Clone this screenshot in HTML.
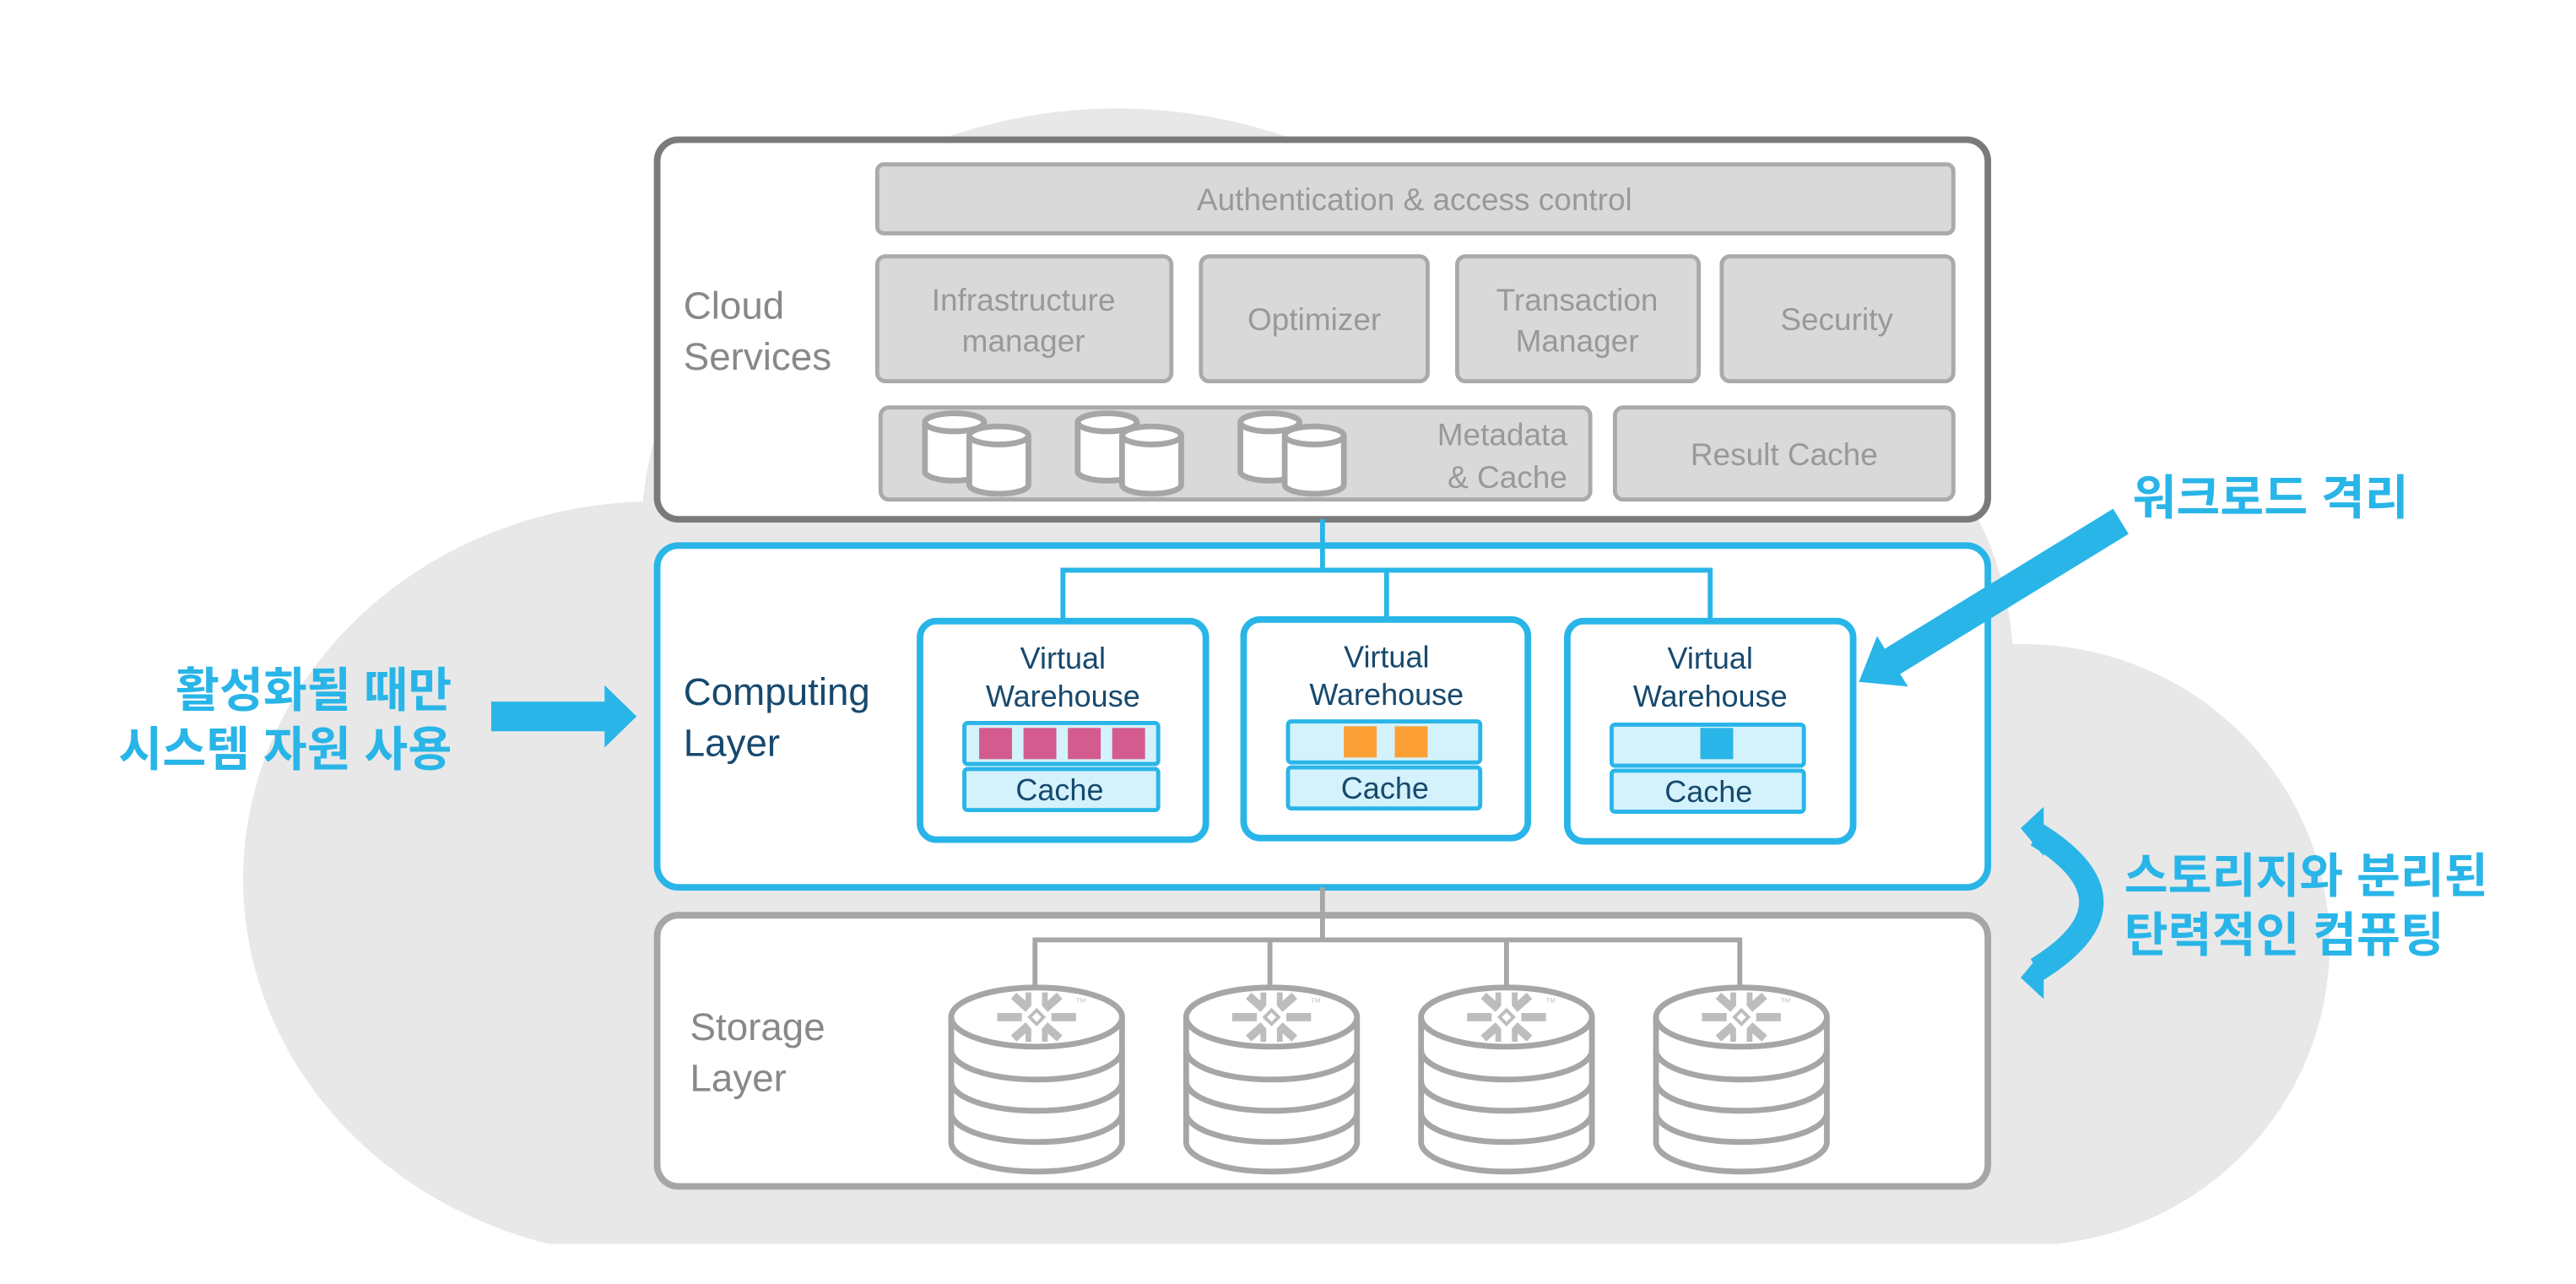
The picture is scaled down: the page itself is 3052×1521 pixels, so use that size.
<!DOCTYPE html>
<html><head><meta charset="utf-8"><style>
html,body{margin:0;padding:0;background:#fff;}
svg{display:block;}
text{font-family:"Liberation Sans","Noto Sans CJK KR",sans-serif;}
.k{font-family:"Liberation Sans","Noto Sans CJK KR",sans-serif;font-weight:bold;fill:#29b5e8;font-size:29px;}
.g{fill:#999;font-size:19px;}
.vw{fill:#17496e;font-size:18.5px;text-anchor:middle;}
</style></head><body>
<svg width="3052" height="1521" viewBox="0 0 1568 781.4" xmlns="http://www.w3.org/2000/svg">
<defs>
<clipPath id="cc"><rect x="0" y="0" width="1568" height="757"/></clipPath>
<g id="db">
  <path d="M-52 0 V76 A52 18 0 0 0 52 76 V0" fill="#fff" stroke="#a6a6a6" stroke-width="3.5"/>
  <path d="M-52 20 A52 18 0 0 0 52 20 M-52 39 A52 18 0 0 0 52 39 M-52 58 A52 18 0 0 0 52 58" fill="none" stroke="#a6a6a6" stroke-width="3.5"/>
  <ellipse cx="0" cy="0" rx="52" ry="18" fill="#fff" stroke="#a6a6a6" stroke-width="3.5"/>
  <g stroke="#bdbdbd" stroke-width="5" stroke-linecap="butt" fill="none">
    <path d="M-14 -13 L-5 -5 M14 -13 L5 -5 M-14 13 L-5 5 M14 13 L5 5 M-24 0 L-9 0 M24 0 L9 0"/>
    <path d="M-5 -15 V-7 M5 -15 V-7 M-5 15 V7 M5 15 V7" stroke-width="3.5"/>
  </g>
  <rect x="-3" y="-3" width="6" height="6" transform="rotate(45)" fill="none" stroke="#bdbdbd" stroke-width="2"/>
  <text x="24" y="-9" font-size="4" fill="#bbb">TM</text>
</g>
<g id="cyl">
  <path d="M-18 -12 V18 A18 5.5 0 0 0 18 18 V-12" fill="#fff" stroke="#a6a6a6" stroke-width="3.5"/>
  <ellipse cx="0" cy="-12" rx="18" ry="5.5" fill="#fff" stroke="#a6a6a6" stroke-width="3.5"/>
</g>
</defs>

<!-- cloud -->
<g fill="#e8e8e8" clip-path="url(#cc)">
  <ellipse cx="680" cy="330" rx="290" ry="264"/>
  <ellipse cx="400" cy="535" rx="252" ry="230"/>
  <ellipse cx="1232" cy="575" rx="186" ry="183"/>
  <path d="M400 330 L880 140 Q1210 200 1225 392 L1232 757 L400 757 Z"/>
</g>

<!-- Cloud Services -->
<rect x="400" y="85" width="810" height="231" rx="13" fill="#fff" stroke="#7a7a7a" stroke-width="4"/>
<g fill="#d9d9d9" stroke="#aaa" stroke-width="2.5">
  <rect x="534" y="100" width="655" height="42" rx="4"/>
  <rect x="534" y="156" width="179" height="76" rx="5"/>
  <rect x="731" y="156" width="138" height="76" rx="5"/>
  <rect x="887" y="156" width="147" height="76" rx="5"/>
  <rect x="1048" y="156" width="141" height="76" rx="5"/>
  <rect x="536" y="248" width="432" height="56" rx="5"/>
  <rect x="983" y="248" width="206" height="56" rx="5"/>
</g>
<g class="g" text-anchor="middle">
  <text x="861" y="128">Authentication &amp; access control</text>
  <text x="623" y="189">Infrastructure</text>
  <text x="623" y="214">manager</text>
  <text x="800" y="201">Optimizer</text>
  <text x="960" y="189">Transaction</text>
  <text x="960" y="214">Manager</text>
  <text x="1118" y="201">Security</text>
  <text x="1086" y="283">Result Cache</text>
</g>
<g class="g" text-anchor="end">
  <text x="954" y="271">Metadata</text>
  <text x="954" y="297">&amp; Cache</text>
</g>
<g>
  <use href="#cyl" x="581" y="269"/><use href="#cyl" x="608" y="277"/>
  <use href="#cyl" x="674" y="269"/><use href="#cyl" x="701" y="277"/>
  <use href="#cyl" x="773" y="269"/><use href="#cyl" x="800" y="277"/>
</g>
<text x="416" y="194" font-size="23.5" fill="#888">Cloud</text>
<text x="416" y="225" font-size="23.5" fill="#888">Services</text>

<!-- Computing Layer -->
<rect x="400" y="332" width="810" height="208" rx="13" fill="#fff" stroke="#29b5e8" stroke-width="4"/>
<path d="M805 316 V347" stroke="#29b5e8" stroke-width="3"/>
<path d="M647 378 V347 H1041 V378 M844 347 V378" stroke="#29b5e8" stroke-width="3" fill="none"/>
<text x="416" y="429" font-size="23.5" fill="#17496e">Computing</text>
<text x="416" y="460" font-size="23.5" fill="#17496e">Layer</text>

<g fill="#fff" stroke="#29b5e8" stroke-width="4">
  <rect x="560" y="378" width="174" height="133" rx="10"/>
  <rect x="757" y="377" width="173" height="133" rx="10"/>
  <rect x="954" y="378" width="174" height="134" rx="10"/>
</g>
<g fill="#d4f2fb" stroke="#29b5e8" stroke-width="2.5">
  <rect x="587" y="440" width="118" height="25" rx="2"/>
  <rect x="587" y="468" width="118" height="25" rx="2"/>
  <rect x="784" y="439" width="117" height="25" rx="2"/>
  <rect x="784" y="467" width="117" height="25" rx="2"/>
  <rect x="981" y="441" width="117" height="25" rx="2"/>
  <rect x="981" y="469" width="117" height="25" rx="2"/>
</g>
<g fill="#d45b8e">
  <rect x="596" y="443" width="20" height="19"/><rect x="623" y="443" width="20" height="19"/>
  <rect x="650" y="443" width="20" height="19"/><rect x="677" y="443" width="20" height="19"/>
</g>
<g fill="#fca035">
  <rect x="818" y="442" width="20" height="19"/><rect x="849" y="442" width="20" height="19"/>
</g>
<rect x="1035" y="443" width="20" height="19" fill="#29b5e8"/>
<g class="vw">
  <text x="647" y="407">Virtual</text><text x="647" y="430">Warehouse</text><text x="645" y="487">Cache</text>
  <text x="844" y="406">Virtual</text><text x="844" y="429">Warehouse</text><text x="843" y="486">Cache</text>
  <text x="1041" y="407">Virtual</text><text x="1041" y="430">Warehouse</text><text x="1040" y="488">Cache</text>
</g>

<!-- connector to storage -->
<path d="M805 540 V557" stroke="#a6a6a6" stroke-width="3"/>

<!-- Storage Layer -->
<rect x="400" y="557" width="810" height="165" rx="13" fill="#fff" stroke="#a6a6a6" stroke-width="4"/>
<path d="M805 557 V572 M630 605 V572 H1059 V605 M773 572 V605 M917 572 V605" stroke="#a6a6a6" stroke-width="3" fill="none"/>
<text x="420" y="633" font-size="23.5" fill="#888">Storage</text>
<text x="420" y="664" font-size="23.5" fill="#888">Layer</text>
<use href="#db" x="631" y="619"/>
<use href="#db" x="774" y="619"/>
<use href="#db" x="917" y="619"/>
<use href="#db" x="1060" y="619"/>

<!-- left annotation -->
<text class="k" x="275" y="430" text-anchor="end">활성화될 때만</text>
<text class="k" x="275" y="466" text-anchor="end">시스템 자원 사용</text>
<path d="M299 427 H368 V417 L387.5 436 L368 455 V445 H299 Z" fill="#29b5e8"/>

<!-- right top annotation -->
<text class="k" x="1298" y="313">워크로드 격리</text>
<g transform="translate(1131.5 415) rotate(-31.5)">
  <path d="M0 0 L24 -18 V-9 H187 V9 H24 V18 Z" fill="#29b5e8"/>
</g>

<!-- curved double arrow -->
<path d="M1240 508 Q1306 549 1240 590" stroke="#29b5e8" stroke-width="15" fill="none"/>
<path d="M1230 504 L1244 491 L1244 521 Z" fill="#29b5e8"/>
<path d="M1230 595 L1244 608 L1244 578 Z" fill="#29b5e8"/>
<text class="k" x="1293" y="543">스토리지와 분리된</text>
<text class="k" x="1293" y="579">탄력적인 컴퓨팅</text>
</svg>
</body></html>
